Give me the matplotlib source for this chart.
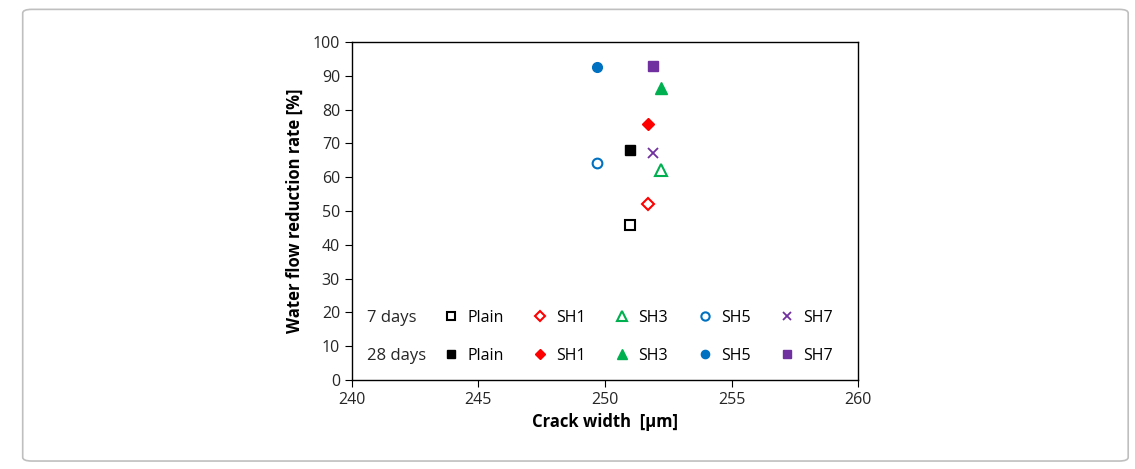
import matplotlib
matplotlib.use("Agg")
import matplotlib.pyplot as plt
from matplotlib.patches import FancyBboxPatch

plt.rcParams['font.family'] = ['Open Sans', 'DejaVu Sans']

mixes = ['Plain', 'SH1', 'SH3', 'SH5', 'SH7']
crack_width = [251.0, 251.7, 252.2, 249.7, 251.9]
reduction_7d = [46.0, 52.0, 62.2, 64.1, 67.3]
reduction_28d = [68.0, 75.6, 86.4, 92.5, 92.9]

colors = ['black', '#ff0000', '#00b050', '#0070c0', '#7030a0']
markers_7d = ['s', 'D', '^', 'o', 'x']
markers_28d = ['s', 'D', '^', 'o', 's']
sizes_7d = [7, 6, 8, 7, 7]
sizes_28d = [7, 6, 8, 7, 7]

fig = plt.figure(figsize=(11.35, 4.69), dpi=100)
fig.patches.append(FancyBboxPatch((0.02, 0.017), 0.974, 0.963, boxstyle="round,pad=0,rounding_size=0.008",
                                  transform=fig.transFigure, facecolor='white', edgecolor='#bfbfbf', lw=1.2,
                                  zorder=-10))
ax = fig.add_axes([0.310, 0.1898, 0.446, 0.7206])
ax.patch.set_alpha(0)

h7, h28 = [], []
for i, m in enumerate(mixes):
    if markers_7d[i] == 'x':
        l7, = ax.plot(crack_width[i], reduction_7d[i], ls='none', marker='x', ms=sizes_7d[i],
                      color=colors[i], mew=1.3)
    else:
        l7, = ax.plot(crack_width[i], reduction_7d[i], ls='none', marker=markers_7d[i], ms=sizes_7d[i],
                      mfc='white', mec=colors[i], mew=1.5)
    l28, = ax.plot(crack_width[i], reduction_28d[i], ls='none', marker=markers_28d[i], ms=sizes_28d[i],
                   color=colors[i], mec=colors[i])
    h7.append(l7)
    h28.append(l28)

handles, labels = [], []
for i, m in enumerate(mixes):
    handles += [h7[i], h28[i]]
    labels += [m, m]

ax.legend(handles, labels, ncol=5, loc='lower left', bbox_to_anchor=(0.155, 0.006), frameon=False,
          fontsize=11.5, handlelength=0.8, handletextpad=0.6, columnspacing=1.9, labelspacing=1.37,
          markerscale=0.85)
ax.text(0.03, 0.184, '7 days', transform=ax.transAxes, fontsize=12, va='center', color='#262626')
ax.text(0.03, 0.072, '28 days', transform=ax.transAxes, fontsize=12, va='center', color='#262626')

ax.set_xlim(240, 260)
ax.set_ylim(0, 100)
ax.set_xticks(range(240, 261, 5))
ax.set_yticks(range(0, 101, 10))
ax.tick_params(direction='out', length=5, labelsize=11.5, labelcolor='#262626')
for s in ax.spines.values():
    s.set_linewidth(1.0)
ax.set_xlabel('Crack width  [μm]', fontsize=12, fontweight='bold', labelpad=4)
ax.set_ylabel('Water flow reduction rate [%]', fontsize=12, fontweight='bold', labelpad=6)

fig.savefig('out.png', dpi=100)
